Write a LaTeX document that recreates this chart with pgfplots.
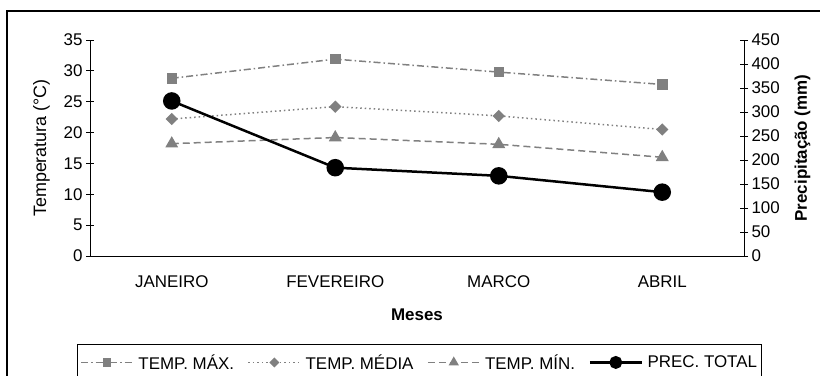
\documentclass[border=0pt]{standalone}
\usepackage{pgfplots}
\pgfplotsset{compat=1.18}
\usepackage{fontspec}
\setmainfont{Liberation Sans}
\definecolor{sergray}{HTML}{808080}
\begin{document}
\begin{tikzpicture}
\useasboundingbox (0,0) rectangle (820bp,376bp);
\draw[line width=2bp] (6.5bp,365bp) rectangle (850bp,-30bp);
\pgfplotsset{
  every axis/.append style={
    scale only axis, width=654bp, height=216bp,
    at={(90bp,120bp)}, anchor=south west,
    xmin=0.5, xmax=4.5,
    /pgf/number format/assume math mode=true,
    tick label style={font=\fontsize{17}{20}\selectfont},
    label style={font=\fontsize{17}{20}\selectfont},
    tick align=center, major tick length=8bp, minor tick length=8bp,
    axis line style={line width=0.9bp}, tick style={line width=0.9bp, black},
  },
  tmax/.style={sergray, line width=1.5bp, dash pattern=on 7bp off 3bp on 1.5bp off 3bp, mark=square*, mark size=4.5bp, mark options={solid, fill=sergray}},
  tmed/.style={sergray, line width=1.5bp, dash pattern=on 1.5bp off 3bp, mark=square*, mark size=3.6bp, mark options={solid, rotate=45, fill=sergray}},
  tmin/.style={sergray, line width=1.5bp, dash pattern=on 7bp off 4bp, mark=triangle*, mark size=6bp, mark options={solid, fill=sergray}},
  prec/.style={black, line width=2.5bp, mark=*, mark size=7.5bp, mark options={solid, fill=black}},
}
\begin{axis}[
  axis x line*=bottom, axis y line*=left,
  ymin=0, ymax=35, ytick={0,5,...,35},
  xtick={1,2,3,4}, xticklabels={JANEIRO,FEVEREIRO,MARCO,ABRIL},
  x tick style={draw=none},
  minor xtick={0.5,1.5,2.5,3.5,4.5},
  xticklabel style={yshift=-12bp},
  xlabel={\textbf{Meses}},
  xlabel style={yshift=-14bp},
  ylabel={Temperatura (°C)},
  ylabel style={font=\fontsize{18}{20}\selectfont, yshift=7bp},
  clip=false,
]
\addplot[tmax] coordinates {(1,28.8) (2,31.9) (3,29.8) (4,27.8)};
\addplot[tmed] coordinates {(1,22.2) (2,24.2) (3,22.7) (4,20.5)};
\addplot[tmin] coordinates {(1,18.2) (2,19.2) (3,18.1) (4,16.0)};
\end{axis}
\begin{axis}[
  axis x line=none, axis y line*=right,
  ymin=0, ymax=450, ytick={0,50,...,450},
  ylabel={\textbf{Precipitação (mm)}},
  ylabel style={yshift=-8bp},
  clip=false,
  legend columns=4,
  legend image code/.code={\draw[mark repeat=2,mark phase=2,#1] plot coordinates {(0bp,0bp) (26bp,0bp) (52bp,0bp)};},
  legend style={at={(-0.0199,-0.407)}, anchor=north west, draw=black, line width=0.9bp,
    font=\fontsize{17}{20}\selectfont, inner xsep=3bp, inner ysep=8bp,
    nodes={inner xsep=1.5bp},
    /tikz/every odd column/.append style={column sep=3bp},
    /tikz/every even column/.append style={column sep=12bp},
    cells={anchor=west}},
]
\addlegendimage{tmax, mark size=3.5bp}
\addlegendentry{TEMP. MÁX.}
\addlegendimage{tmed, mark size=2.8bp}
\addlegendentry{TEMP. MÉDIA}
\addlegendimage{tmin, mark size=4.5bp}
\addlegendentry{TEMP. MÍN.}
\addlegendimage{prec, mark size=5.2bp}
\addlegendentry{PREC. TOTAL}
\addplot[prec, forget plot] coordinates {(1,323) (2,184) (3,167) (4,133)};
\end{axis}
\end{tikzpicture}
\end{document}
